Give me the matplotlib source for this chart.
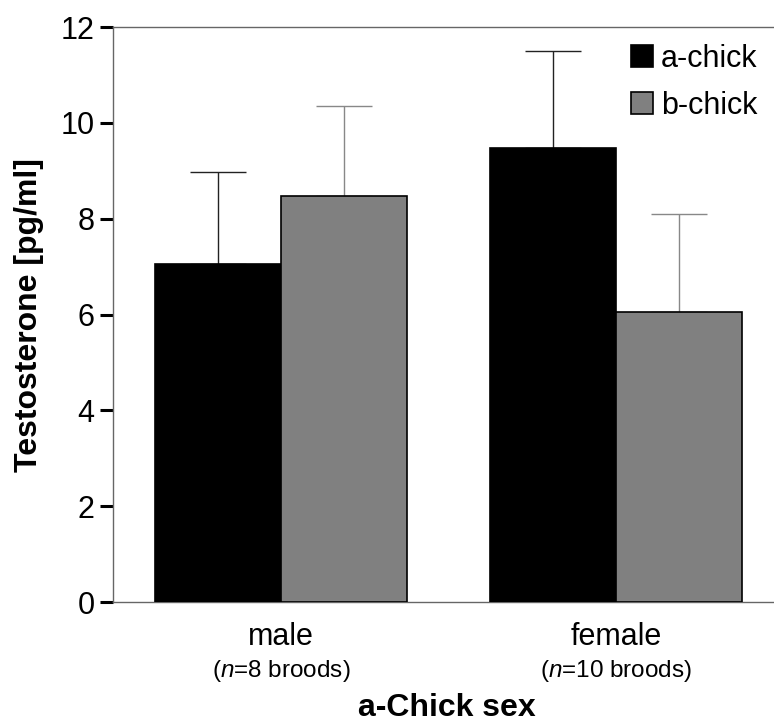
import matplotlib
matplotlib.use("Agg")
import matplotlib.pyplot as plt
import numpy as np

plt.rcParams['font.family'] = ['Liberation Sans', 'DejaVu Sans']
plt.rcParams['mathtext.fontset'] = 'custom'
plt.rcParams['mathtext.rm'] = 'Liberation Sans'
plt.rcParams['mathtext.it'] = 'Liberation Sans:italic'

groups = ['male', 'female']
group_n = ['($\\it{n}$=8 broods)', '($\\it{n}$=10 broods)']
series = ['a-chick', 'b-chick']
a_means = [7.05, 9.47]
a_err = [1.92, 2.03]
b_means = [8.47, 6.05]
b_err = [1.88, 2.05]
yticks = [0, 2, 4, 6, 8, 10, 12]

fig = plt.figure(figsize=(7.74, 7.22), dpi=100)
ax = fig.add_axes([113/774, 120/722, 661/774, 575/722])

x = np.arange(len(groups))
w = 0.376
ax.bar(x - w/2, a_means, w, color='black', edgecolor='black', linewidth=1.2, label=series[0], zorder=3)
ax.bar(x + w/2, b_means, w, color='#808080', edgecolor='black', linewidth=1.2, label=series[1], zorder=3)
ax.errorbar(x - w/2, a_means, yerr=[np.zeros(2), a_err], fmt='none', ecolor='#222222',
            elinewidth=1.0, capsize=20, capthick=1.0, zorder=2)
ax.errorbar(x + w/2, b_means, yerr=[np.zeros(2), b_err], fmt='none', ecolor='#888888',
            elinewidth=1.0, capsize=20, capthick=1.0, zorder=2)

ax.set_xlim(-0.5015, 1.4716)
ax.set_ylim(0, 12)
ax.set_yticks(yticks)
ax.set_yticklabels([str(t) for t in yticks], fontsize=22)
ax.tick_params(axis='y', length=9.4, width=2.2, direction='out', pad=4, color='black')
ax.set_xticks([])
for s in ['top', 'bottom', 'left']:
    ax.spines[s].set_color('#666666')
    ax.spines[s].set_linewidth(1.0)
ax.spines['right'].set_visible(False)

def fy(py):
    return 1 - py / 722

for i, (g, n) in enumerate(zip(groups, group_n)):
    xf = (113 + (x[i] + 0.5015) * 335) / 774
    fig.text(xf, fy(637), g, ha='center', va='center', fontsize=22)
    fig.text(xf, fy(671), n, ha='center', va='center', fontsize=17.5)

fig.text(29 / 774, fy(315.5), 'Testosterone [pg/ml]', rotation=90, ha='center', va='center',
         fontsize=23, fontweight='bold')
fig.text(447 / 774, fy(716), 'a-Chick sex', ha='center', va='baseline',
         fontsize=23, fontweight='bold')

leg = ax.legend(loc='upper right', bbox_to_anchor=(1.0, 1.0), frameon=False, fontsize=22,
                handlelength=0.72, handleheight=0.72, handletextpad=0.25, labelspacing=0.55,
                borderaxespad=0.35, borderpad=0.2)

fig.savefig('out.png', dpi=100)
